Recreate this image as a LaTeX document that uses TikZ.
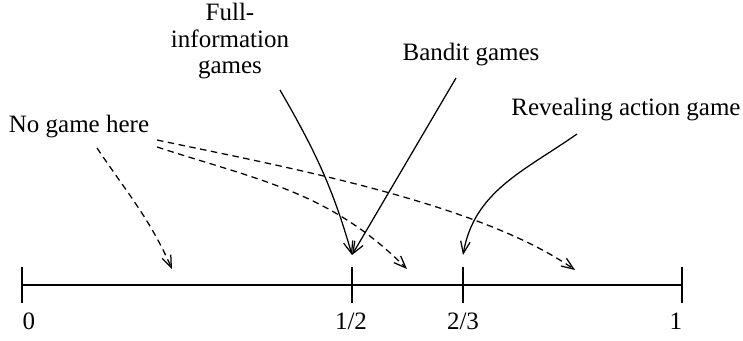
\documentclass[tikz,border=0pt]{standalone}
\usepackage{fontspec}
\setmainfont{Liberation Serif}
\usetikzlibrary{arrows.meta, calc}
\tikzset{
  axisline/.style={line width=0.8pt, color=black},
  tickline/.style={line width=0.7pt, color=black},
  ticklabel/.style={anchor=base, inner sep=0pt, font=\fontsize{10}{12}\selectfont},
  gamelabel/.style={align=center, inner sep=0pt, font=\fontsize{10}{10.6}\selectfont},
  pointer/.style={-{Straight Barb[length=4.8pt, width=3.8pt]}, line width=0.5pt, color=black},
  dashpointer/.style={pointer, dash pattern=on 2.6pt off 1.8pt}
}
\begin{document}
\begin{tikzpicture}[x=0.4pt, y=0.4pt]
  \useasboundingbox (0,0) rectangle (743,341);

  % The unit interval
  \coordinate (t0) at (22,56);
  \coordinate (t12) at (352,56);
  \coordinate (t23) at (463,56);
  \coordinate (t1) at (682,56);
  \draw[axisline] (t0) -- (t1);
  \foreach \t in {t0,t12,t23,t1}
    \draw[tickline] ($(\t)+(0,-18)$) -- ($(\t)+(0,18)$);

  % Tick labels
  \node[ticklabel] (l0) at ($(t0)+(7,-45)$) {0};
  \node[ticklabel] (l12) at ($(t12)+(-1,-45)$) {1/2};
  \node[ticklabel] (l23) at ($(t23)+(0,-45)$) {2/3};
  \node[ticklabel] (l1) at ($(t1)+(-6,-45)$) {1};

  % Game classes
  \node[gamelabel] (full) at (230,299.5) {Full-\\information\\games};
  \node[gamelabel] (bandit) at (471,286) {Bandit games};
  \node[gamelabel] (nogame) at (79,214) {No game here};
  \node[gamelabel] (reveal) at (626,231) {Revealing action game};

  % Arrow ends
  \coordinate (fullstart) at (280,251);
  \coordinate (banditstart) at (456,263);
  \coordinate (revealstart) at (577,207);
  \coordinate (nogamea) at (97,193);
  \coordinate (nogameb) at (157,194);
  \coordinate (nogamec) at (157,201);
  \coordinate (halfend) at ($(t12)+(0,30)$);
  \coordinate (twothirdend) at ($(t23)+(0,30)$);
  \coordinate (gapa) at (172,72);
  \coordinate (gapb) at (407,72);
  \coordinate (gapc) at (575,71);

  % Solid arrows to the known values
  \draw[pointer] (fullstart) to[out=-60, in=106] (halfend);
  \draw[pointer] (banditstart) -- (halfend);
  \draw[pointer] (revealstart) to[out=-145, in=80] (twothirdend);

  % Dashed arrows into the gaps
  \draw[dashpointer] (nogamea) to[out=-56, in=114] (gapa);
  \draw[dashpointer] (nogameb) to[out=-18, in=135] (gapb);
  \draw[dashpointer] (nogamec) to[out=-12, in=145, looseness=0.7] (gapc);
\end{tikzpicture}
\end{document}
